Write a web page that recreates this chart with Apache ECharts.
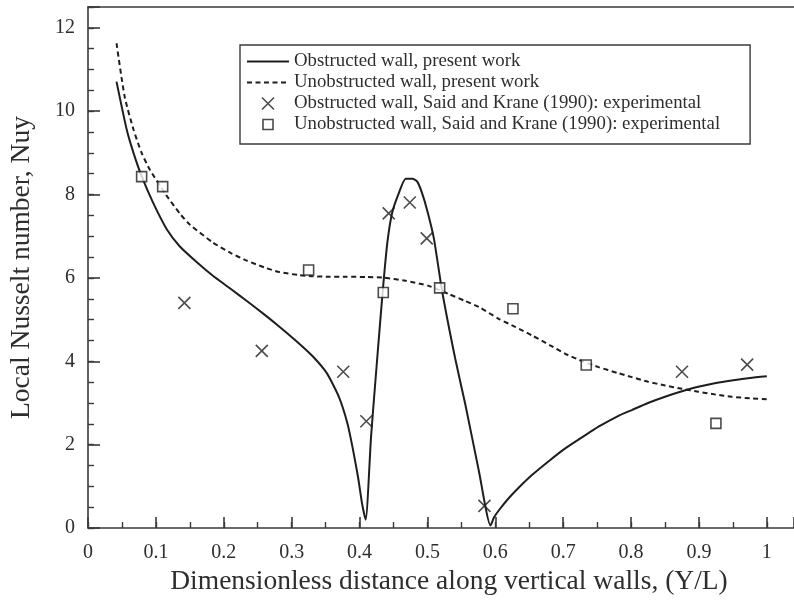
<!DOCTYPE html>
<html>
<head>
<meta charset="utf-8">
<script src="https://cdn.jsdelivr.net/npm/echarts@6/dist/echarts.min.js"></script>
<style>
html,body{margin:0;padding:0;background:#fff;}
#chart{width:794px;height:601px;}
</style>
</head>
<body>
<div id="chart"></div>
<script>
// ---- data ----
const seriesNames = [
  'Obstructed wall, present work',
  'Unobstructed wall, present work',
  'Obstructed wall, Said and Krane (1990): experimental',
  'Unobstructed wall, Said and Krane (1990): experimental'
];
const xTickValues = [0, 0.1, 0.2, 0.3, 0.4, 0.5, 0.6, 0.7, 0.8, 0.9, 1];
const yTickValues = [0, 2, 4, 6, 8, 10, 12];

const obstructedCurve = [
  [0.042,10.71],[0.057,9.56],[0.067,9.0],[0.079,8.44],[0.096,7.80],[0.116,7.17],
  [0.135,6.76],[0.16,6.38],[0.184,6.05],[0.21,5.74],[0.233,5.46],[0.26,5.12],
  [0.282,4.83],[0.31,4.44],[0.331,4.12],[0.352,3.71],[0.370,3.13],[0.382,2.52],
  [0.390,1.91],[0.398,1.2],[0.404,0.56],[0.409,0.20],[0.417,2.2],[0.426,4.06],
  [0.434,5.65],[0.441,6.85],[0.448,7.56],[0.458,8.04],[0.468,8.38],[0.478,8.38],
  [0.485,8.31],[0.492,8.04],[0.500,7.6],[0.5095,6.95],[0.522,5.65],[0.541,4.06],
  [0.556,2.95],[0.576,1.35],[0.593,0.06],[0.598,0.25],[0.605,0.42],[0.62,0.72],
  [0.634,0.96],[0.654,1.27],[0.68,1.62],[0.703,1.91],[0.73,2.2],[0.752,2.43],
  [0.78,2.68],[0.801,2.83],[0.825,3.0],[0.850,3.15],[0.875,3.28],[0.899,3.39],
  [0.925,3.48],[0.948,3.54],[0.975,3.6],[1.0,3.64]
];
const unobstructedCurve = [
  [0.042,11.63],[0.054,10.35],[0.067,9.56],[0.079,9.0],[0.091,8.60],
  [0.1155,7.98],[0.135,7.55],[0.150,7.28],[0.184,6.85],[0.21,6.60],[0.233,6.42],
  [0.26,6.25],[0.282,6.14],[0.31,6.07],[0.331,6.04],[0.355,6.03],[0.380,6.03],
  [0.41,6.02],[0.434,6.01],[0.468,5.93],[0.502,5.81],[0.532,5.61],[0.555,5.45],
  [0.576,5.30],[0.605,5.02],[0.63,4.82],[0.654,4.62],[0.68,4.39],[0.703,4.18],
  [0.73,3.99],[0.752,3.86],[0.78,3.72],[0.801,3.62],[0.825,3.51],[0.850,3.42],
  [0.875,3.34],[0.899,3.27],[0.925,3.20],[0.948,3.15],[0.975,3.11],[1.0,3.09]
];
const obstructedExp = [
  [0.142,5.40],[0.256,4.25],[0.376,3.75],[0.410,2.56],[0.443,7.55],
  [0.474,7.81],[0.499,6.95],[0.584,0.53],[0.875,3.75],[0.971,3.92]
];
const unobstructedExp = [
  [0.079,8.43],[0.110,8.19],[0.325,6.19],[0.435,5.65],[0.518,5.76],
  [0.626,5.26],[0.734,3.91],[0.925,2.51]
];

// ---- styling ----
const serif = 'Liberation Serif';
const axisColor = '#3a3a3a';
const textColor = '#2e2e2e';
const ink = '#1e1e1e';
const crossPath = 'path://M0,0L10,10M10,0L0,10';
const squarePath = 'path://M0,0L10,0L10,10L0,10Z';
const markerStyle = {color: 'rgba(0,0,0,0)', borderColor: ink, borderWidth: 1.6};
const hiddenSymbol = {color: 'rgba(0,0,0,0)', borderColor: 'rgba(0,0,0,0)', borderWidth: 0, opacity: 0};

const chart = echarts.init(document.getElementById('chart'), null, {renderer: 'canvas'});

const xMin = 0, xMax = 1.04, yMin = 0, yMax = 12.5;

chart.setOption({
  animation: false,
  backgroundColor: '#fff',
  grid: {left: 88, top: 7, right: -2, bottom: 71, containLabel: false},
  legend: {
    left: 240, top: 45, orient: 'vertical',
    padding: [6, 30, 9, 6],
    itemGap: 0, itemWidth: 42, itemHeight: 12,
    borderColor: axisColor, borderWidth: 1.4,
    symbolKeepAspect: true,
    selectedMode: false,
    textStyle: {fontFamily: serif, fontSize: 18.8, color: textColor, lineHeight: 21},
    data: [
      {name: seriesNames[0], itemStyle: hiddenSymbol},
      {name: seriesNames[1], itemStyle: hiddenSymbol},
      {name: seriesNames[2], icon: 'path://M0,0L12,12M12,0L0,12', itemStyle: markerStyle},
      {name: seriesNames[3], icon: 'path://M-1,-1M11,11M0,0L10,0L10,10L0,10Z', itemStyle: markerStyle}
    ]
  },
  xAxis: [
    {
      type: 'value', position: 'bottom', min: xMin, max: xMax, interval: 0.1,
      name: 'Dimensionless distance along vertical walls, (Y/L)',
      nameLocation: 'middle', nameGap: 40,
      nameTextStyle: {fontFamily: serif, fontSize: 27.5, color: textColor, padding: [0, 0, 0, 16]},
      axisLine: {show: true, onZero: false, lineStyle: {color: axisColor, width: 1.6}},
      axisTick: {show: true, inside: true, length: 11, lineStyle: {color: axisColor, width: 1.6}},
      axisLabel: {
        show: true, margin: 15, fontFamily: serif, fontSize: 20, color: textColor,
        customValues: xTickValues,
        formatter: v => String(Math.round(v * 10) / 10)
      },
      splitLine: {show: false}
    },
    {
      type: 'value', position: 'bottom', min: xMin, max: xMax, interval: 0.05,
      axisLine: {show: false, onZero: false},
      axisTick: {show: true, inside: true, length: 6, lineStyle: {color: axisColor, width: 1.4}},
      axisLabel: {show: false},
      splitLine: {show: false}
    },
    {
      type: 'value', position: 'top', min: xMin, max: xMax,
      axisLine: {show: true, onZero: false, lineStyle: {color: axisColor, width: 1.6}},
      axisTick: {show: false}, axisLabel: {show: false}, splitLine: {show: false}
    }
  ],
  yAxis: [
    {
      type: 'value', position: 'left', min: yMin, max: yMax, interval: 2,
      name: 'Local Nusselt number, Nuy',
      nameLocation: 'middle', nameGap: 52, nameRotate: 90,
      nameTextStyle: {fontFamily: serif, fontSize: 27.5, color: textColor, padding: [0, 0, 0, 0]},
      axisLine: {show: true, onZero: false, lineStyle: {color: axisColor, width: 1.6}},
      axisTick: {show: true, inside: true, length: 12, lineStyle: {color: axisColor, width: 1.6}},
      axisLabel: {
        show: true, margin: 13, fontFamily: serif, fontSize: 20, color: textColor,
        customValues: yTickValues
      },
      splitLine: {show: false}
    },
    {
      type: 'value', position: 'left', min: yMin, max: yMax, interval: 0.5,
      axisLine: {show: false, onZero: false},
      axisTick: {show: true, inside: true, length: 6, lineStyle: {color: axisColor, width: 1.4}},
      axisLabel: {show: false},
      splitLine: {show: false}
    }
  ],
  series: [
    {
      name: seriesNames[0], type: 'line', xAxisIndex: 0, yAxisIndex: 0,
      data: obstructedCurve, showSymbol: false, symbol: 'none',
      smooth: 0.2,
      lineStyle: {color: ink, width: 2}, itemStyle: {color: ink}, z: 2
    },
    {
      name: seriesNames[1], type: 'line', xAxisIndex: 0, yAxisIndex: 0,
      data: unobstructedCurve, showSymbol: false, symbol: 'none',
      smooth: 0.2,
      lineStyle: {color: ink, width: 2, type: [5, 3.5]}, itemStyle: {color: ink}, z: 2
    },
    {
      name: seriesNames[2], type: 'scatter', xAxisIndex: 0, yAxisIndex: 0,
      data: obstructedExp, symbol: crossPath, symbolSize: 12,
      itemStyle: markerStyle, z: 3
    },
    {
      name: seriesNames[3], type: 'scatter', xAxisIndex: 0, yAxisIndex: 0,
      data: unobstructedExp, symbol: squarePath, symbolSize: 10,
      itemStyle: {color: '#fff', borderColor: ink, borderWidth: 1.6}, z: 3
    }
  ]
});
</script>
</body>
</html>
